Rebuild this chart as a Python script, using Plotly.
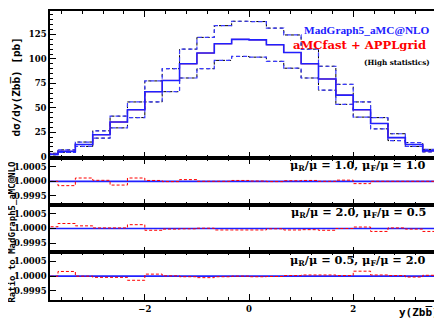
import plotly.graph_objects as go
from plotly.subplots import make_subplots

# bin edges of y(Zbb) : 24 bins of width 1/3 between -4 and 4
edges = [k / 3 for k in range(-12, 13)]

# MadGraph5_aMC@NLO, central scale and scale-variation envelope [pb]
central = [2.5, 5.5, 12.5, 22.5, 35.5, 48.0, 66.5, 78.0, 95.0, 106.0, 115.5, 120.0,
           119.5, 114.5, 106.5, 95.0, 79.5, 63.0, 48.0, 34.0, 19.5, 12.5, 6.0, 2.5]
upper = [3.5, 7.0, 15.0, 26.5, 41.5, 56.0, 77.5, 90.0, 110.0, 122.0, 134.0, 138.5,
         138.2, 131.5, 124.5, 110.0, 92.5, 74.0, 56.0, 40.0, 23.5, 14.5, 7.5, 3.2]
lower = [1.8, 4.5, 10.5, 19.0, 29.5, 40.0, 56.0, 66.5, 80.5, 90.0, 98.5, 102.5,
         101.8, 97.5, 90.5, 80.5, 68.0, 53.5, 40.5, 28.5, 16.5, 10.5, 5.0, 2.0]

# aMCfast + APPLgrid / MadGraph5_aMC@NLO for three scale choices
ratio_11 = [1.0, 0.99985, 1.000115, 1.000035, 0.99987, 1.000115, 1.00003, 0.99999,
            1.00006, 1.0, 1.0, 1.00003, 1.00001, 0.99999, 1.00002, 1.00003,
            1.0, 1.00004, 0.99992, 1.0, 1.0, 1.0, 1.0, 1.0]
ratio_205 = [1.00006, 1.00017, 1.00009, 1.00002, 1.00002, 1.00013, 0.99994, 0.99998,
             0.99999, 1.00001, 0.99995, 0.99995, 0.99995, 0.99999, 0.99995, 0.99996,
             0.99994, 1.0, 1.00005, 0.9999, 1.00002, 0.99998, 0.9999, 0.99998]
ratio_052 = [1.0, 1.00016, 1.0, 0.99996, 0.99996, 0.99986, 1.00007, 1.00001,
             0.99998, 0.99995, 0.99998, 1.0, 0.99998, 0.99999, 1.00002, 1.00004,
             1.00004, 1.00002, 1.00017, 1.00004, 1.00002, 0.99997, 1.00003, 1.00003]

ratio_labels = ["μ<sub>R</sub>/μ = 1.0, μ<sub>F</sub>/μ = 1.0",
                "μ<sub>R</sub>/μ = 2.0, μ<sub>F</sub>/μ = 0.5",
                "μ<sub>R</sub>/μ = 0.5, μ<sub>F</sub>/μ = 2.0"]

serif = "DejaVu Serif"
lserif = "Liberation Serif"
mono = "DejaVu Sans Mono"


def step(vals):
    return vals + [vals[-1]]


def px_x(p):
    return (p - 42) / 398


def px_y(p):
    return (292 - p) / 291


fig = make_subplots(rows=4, cols=1, shared_xaxes=True, vertical_spacing=0)

# main panel
for band in (upper, lower):
    fig.add_trace(go.Scatter(x=edges, y=step(band), mode="lines", line_shape="hv",
                             line=dict(color="black", width=1, dash="3px,3px")), row=1, col=1)
for band in (upper, lower):
    fig.add_trace(go.Scatter(x=edges, y=step(band), mode="lines", line_shape="hv",
                             line=dict(color="#3a3aff", width=1.2, dash="4px,3px")), row=1, col=1)
fig.add_trace(go.Scatter(x=edges, y=step(central), mode="lines", line_shape="hv",
                         line=dict(color="red", width=1)), row=1, col=1)
fig.add_trace(go.Scatter(x=edges, y=step(central), mode="lines", line_shape="hv",
                         line=dict(color="#2020ff", width=1.6)), row=1, col=1)

# ratio panels
for i, r in enumerate([ratio_11, ratio_205, ratio_052]):
    fig.add_trace(go.Scatter(x=[edges[0], edges[-1]], y=[1.0, 1.0], mode="lines",
                             line=dict(color="#2020ff", width=1.6)), row=i + 2, col=1)
    fig.add_trace(go.Scatter(x=edges, y=step(r), mode="lines", line_shape="hv",
                             line=dict(color="red", width=1, dash="3px,2px")), row=i + 2, col=1)

axis_style = dict(showline=True, linecolor="black", linewidth=1.5, mirror="ticks",
                  ticks="inside", ticklen=6, tickwidth=1, tickcolor="black",
                  showgrid=False, zeroline=False,
                  tickfont=dict(family=serif, size=8.5, color="black", weight="bold"))

fig.update_xaxes(**axis_style, range=[-3.82, 3.8], dtick=2, tick0=0,
                 minor=dict(dtick=0.4, tick0=0, ticklen=3, ticks="inside", tickcolor="black"))
fig.update_xaxes(showticklabels=True, row=4, col=1)

fig.update_yaxes(**axis_style)
fig.update_yaxes(range=[-1.3, 149], dtick=25, tick0=0,
                 minor=dict(dtick=5, ticklen=3, ticks="inside", tickcolor="black"),
                 domain=[0.4914, 1.0], row=1, col=1)
doms = [[0.3299, 0.4914], [0.1649, 0.3299], [0.0, 0.1649]]
for i in range(3):
    fig.update_yaxes(range=[0.99919, 1.00081], tickvals=[0.9995, 1.0, 1.0005],
                     tickformat=".4f", domain=doms[i], row=i + 2, col=1)

# legend-like labels (centres in pixels)
annotations = [
    dict(text="MadGraph5_aMC@NLO", cx=360, cy=20, color="#2020ff", size=11.3, family=lserif),
    dict(text="aMCfast + APPLgrid", cx=352, cy=35, color="red", size=11.6, family=serif),
    dict(text="(High statistics)", cx=390, cy=53, color="black", size=7.2, family=serif),
]
for a in annotations:
    fig.add_annotation(text=a["text"], xref="paper", yref="paper", x=px_x(a["cx"]),
                       y=px_y(a["cy"]), xanchor="center", yanchor="middle",
                       showarrow=False,
                       font=dict(family=a["family"], size=a["size"], color=a["color"],
                                 weight="bold"))

for i, lab in enumerate(ratio_labels):
    cy = [157, 204, 252][i]
    fig.add_annotation(text=lab, xref="paper", yref="paper", x=px_x(351),
                       y=px_y(cy), xanchor="center", yanchor="middle",
                       showarrow=False,
                       font=dict(family=serif, size=11.3, color="black", weight="bold"))

fig.add_annotation(text="dσ/dy(Zbb\u0305) [pb]", xref="paper", yref="paper",
                   x=px_x(8), y=px_y(78), textangle=-90,
                   xanchor="center", yanchor="middle", showarrow=False,
                   font=dict(family=mono, size=11, color="black", weight="bold"))
fig.add_annotation(text="Ratio to MadGraph5_aMC@NLO", xref="paper", yref="paper",
                   x=px_x(4), y=px_y(224), textangle=-90,
                   xanchor="center", yanchor="middle", showarrow=False,
                   font=dict(family=mono, size=9, color="black", weight="bold"))
fig.add_annotation(text="y(Zbb\u0305)", xref="paper", yref="paper",
                   x=px_x(412), y=px_y(305), xanchor="center", yanchor="middle",
                   showarrow=False,
                   font=dict(family=mono, size=11, color="black", weight="bold"))

fig.update_layout(width=442, height=321, showlegend=False,
                  margin=dict(l=42, r=2, t=1, b=29),
                  paper_bgcolor="white", plot_bgcolor="white")

fig.write_html("out.html")
